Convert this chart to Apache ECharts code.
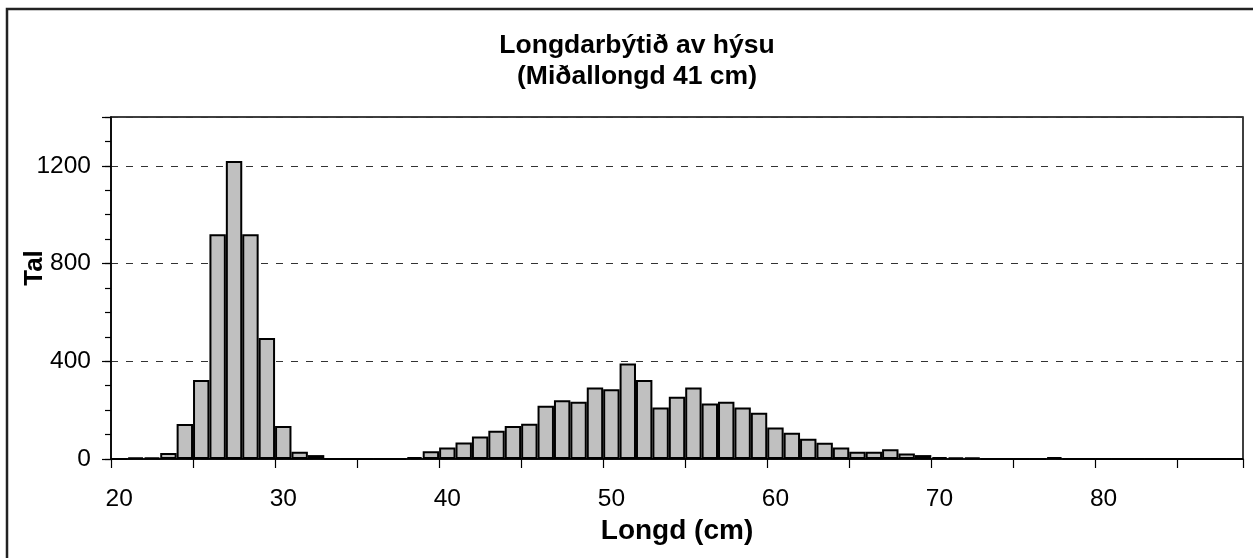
<!DOCTYPE html>
<html>
<head>
<meta charset="utf-8">
<script src="https://cdn.jsdelivr.net/npm/echarts@6/dist/echarts.min.js"></script>
<style>
  html, body { margin: 0; padding: 0; background: #fff; }
  #main { width: 1253px; height: 558px; }
</style>
</head>
<body>
<div id="main"></div>
<script>
// longd (cm), eitt bólk fyri hvønn cm
var lengths = ['20','21','22','23','24','25','26','27','28','29',
               '30','31','32','33','34','35','36','37','38','39',
               '40','41','42','43','44','45','46','47','48','49',
               '50','51','52','53','54','55','56','57','58','59',
               '60','61','62','63','64','65','66','67','68','69',
               '70','71','72','73','74','75','76','77','78','79',
               '80','81','82','83','84','85','86','87','88'];
// tal av fiski
var counts = [0, 6, 6, 25, 143, 323, 920, 1220, 920, 495,
              135, 30, 16, 0, 0, 0, 0, 0, 8, 32,
              47, 68, 92, 116, 135, 144, 218, 241, 234, 293,
              286, 391, 323, 211, 255, 293, 227, 234, 211, 189,
              129, 107, 83, 67, 47, 30, 30, 40, 23, 16,
              8, 7, 6, 0, 0, 0, 0, 8, 0, 0,
              0, 0, 0, 0, 0, 0, 0, 0, 0];
var yLabels = [0, 400, 800, 1200];

var font = 'Liberation Sans, Arial, sans-serif';
var myChart = echarts.init(document.getElementById('main'));

var option = {
  animation: false,
  backgroundColor: '#fff',
  title: {
    text: 'Longdarbýtið av hýsu\n(Miðallongd 41 cm)',
    left: 632,
    textAlign: 'center',
    top: 25,
    textStyle: { fontFamily: font, fontSize: 26.5, fontWeight: 'bold', color: '#000', lineHeight: 31 }
  },
  grid: {
    left: 111, top: 117, right: 10, bottom: 99,
    show: true, borderColor: '#000', borderWidth: 1.5
  },
  graphic: [
    {
      type: 'rect', silent: true,
      shape: { x: 7, y: 9, width: 1270, height: 570 },
      style: { fill: 'none', stroke: '#222', lineWidth: 2.5 }
    },
    {
      type: 'text', x: 35, y: 268, rotation: Math.PI / 2,
      style: { text: 'Tal', font: 'bold 26px ' + font, fill: '#000', textAlign: 'center', textVerticalAlign: 'middle' }
    }
  ],
  xAxis: {
    type: 'category',
    data: lengths,
    boundaryGap: true,
    name: 'Longd (cm)',
    nameLocation: 'middle',
    nameGap: 57,
    nameTextStyle: { fontFamily: font, fontSize: 28, fontWeight: 'bold', color: '#000' },
    axisLine: { lineStyle: { color: '#000', width: 1.5 } },
    axisTick: { show: true, interval: 4, length: 9, lineStyle: { color: '#000', width: 1.2 } },
    axisLabel: { interval: 9, margin: 28, fontFamily: font, fontSize: 24.5, color: '#000' },
    splitLine: { show: false }
  },
  yAxis: [
    {
      type: 'value',
      position: 'left',
      min: 0, max: 1400, interval: 100,
      axisLine: { show: true, lineStyle: { color: '#000', width: 1.5 } },
      axisTick: { show: true, length: 6, lineStyle: { color: '#000', width: 1.2 } },
      axisLabel: {
        margin: 20, fontFamily: font, fontSize: 24.5, color: '#000',
        formatter: function (v) { return yLabels.indexOf(v) >= 0 ? String(v) : ''; }
      },
      splitLine: { show: false }
    },
    {
      type: 'value',
      position: 'left',
      offset: 0,
      min: 0, max: 1400, interval: 400,
      axisLine: { show: false },
      axisTick: { show: true, length: 9, lineStyle: { color: '#000', width: 1.2 } },
      axisLabel: { show: false },
      splitLine: { show: true, lineStyle: { color: '#333', width: 1, type: [7, 8] } }
    }
  ],
  series: [
    {
      type: 'bar',
      data: counts,
      barCategoryGap: '0%',
      itemStyle: { color: '#C0C0C0', borderColor: '#000', borderWidth: 2 }
    }
  ]
};

myChart.setOption(option);
</script>
</body>
</html>
